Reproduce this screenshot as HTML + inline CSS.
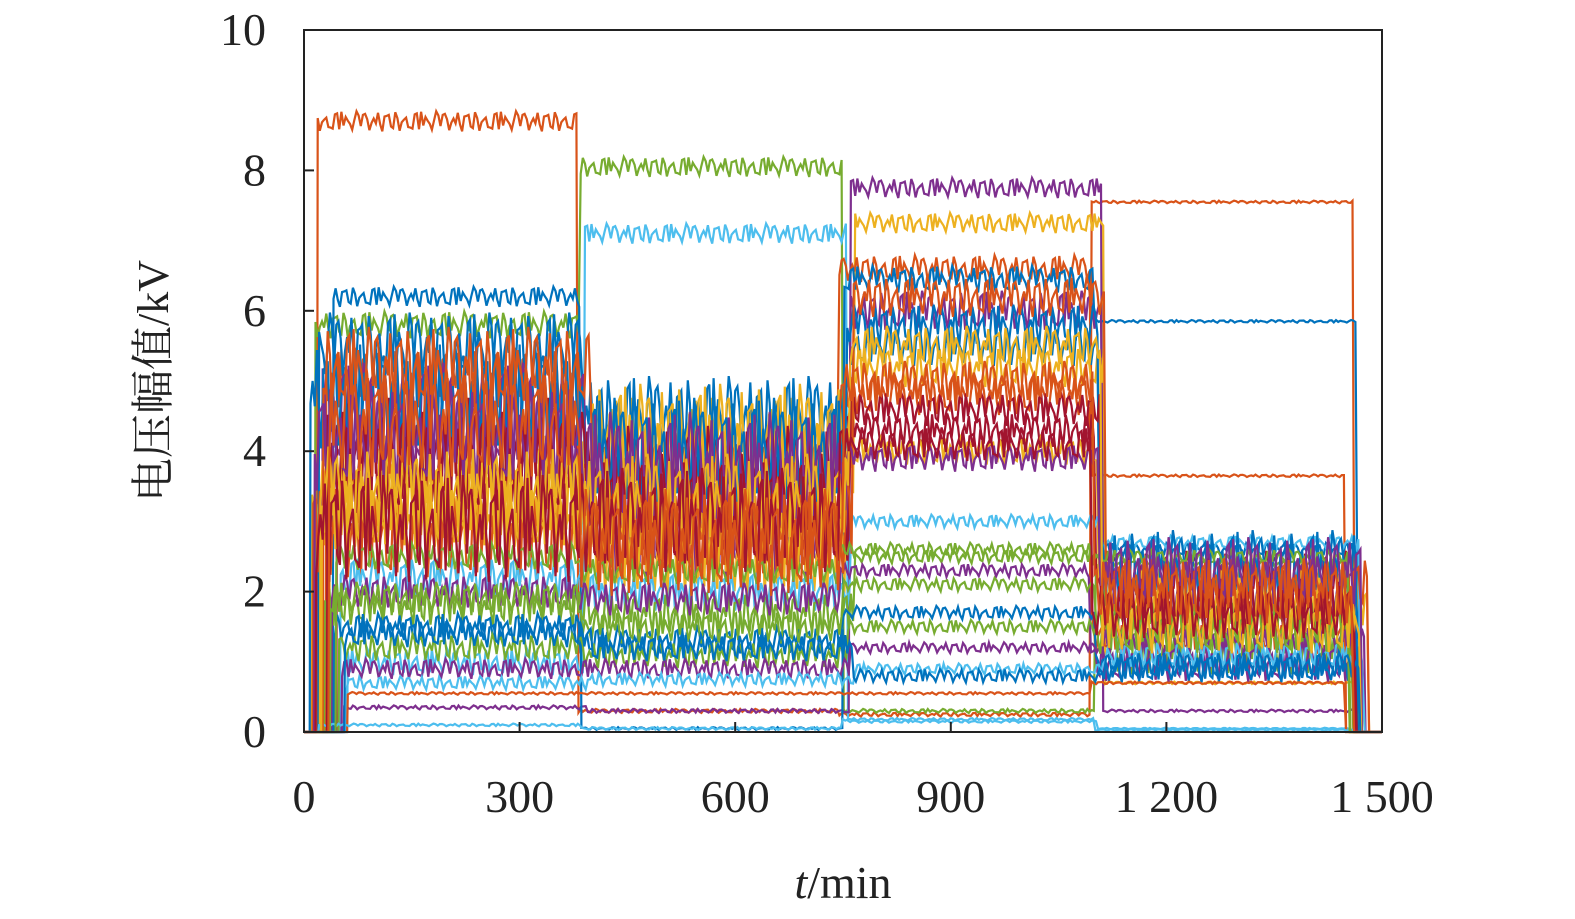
<!DOCTYPE html>
<html><head><meta charset="utf-8">
<style>
html,body{margin:0;padding:0;background:#fff;width:1575px;height:919px;overflow:hidden}
svg{display:block}
text{font-family:"Liberation Serif","Noto Serif CJK SC",serif;fill:#222}
</style></head>
<body>
<svg id="chart" width="1575" height="919" viewBox="0 0 1575 919">
<g id="series"></g>
<rect x="304" y="30" width="1078" height="702" fill="none" stroke="#222" stroke-width="2"/>
<g id="axes"></g>
<text transform="translate(168,381) rotate(-90)" text-anchor="middle" font-size="44">电压幅值/kV</text>
<text x="843" y="898" text-anchor="middle" font-size="46"><tspan font-style="italic">t</tspan>/min</text>
</svg>
<script>
const xTicks=[0,300,600,900,1200,1500];
const xTickLabels=["0","300","600","900","1 200","1 500"];
const yTicks=[0,2,4,6,8,10];
const yTickLabels=["0","2","4","6","8","10"];
const segBounds=[380,745,1095,1460];
const colors=["#0072BD","#D95319","#EDB120","#7E2F8E","#77AC30","#4DBEEE","#A2142F"];
const noisePattern=[0.3,-0.8,0.5,0.9,-0.2,-0.6,0.7,-0.9,0.1,0.6,-0.4,0.8,-0.7,0.2,-0.1,0.95,-0.5,0.4,-0.3,0.65,-0.85,0.15,0.55,-0.65,0.05,-0.95,0.75,-0.15,0.35,-0.45,0.85,-0.25,0.45,-0.75,0.25,-0.55,0.6];
// each series: levels for 4 segments, noise amplitudes, color index, start time
const seriesLevels=[
[8.7,0.3,0.25,7.55],[5.8,8.05,0.3,2.4],[1.0,7.1,0.15,0.05],[0.35,0.3,7.75,0.3],
[3.0,4.0,7.25,0.7],[5.0,3.5,6.6,3.65],[6.2,0.05,6.45,5.85],[5.5,4.5,5.5,2.6],
[4.5,3.0,6.0,2.0],[3.5,4.2,5.2,1.7],[2.8,2.8,4.8,1.4],[4.0,3.6,4.3,2.2],
[3.2,2.6,4.0,1.9],[2.2,2.0,3.0,2.7],[1.8,1.7,2.5,1.2],[2.0,1.9,2.3,1.0],
[1.5,1.3,1.7,0.9],[1.2,1.1,1.5,1.6],[0.9,0.9,1.2,1.3],[0.7,0.75,0.9,1.1],
[0.55,0.55,0.55,0.7],[0.1,0.05,0.18,0.03],[4.8,4.0,5.8,2.4],[3.8,3.2,4.6,1.8],
[5.2,2.9,6.2,2.1],[2.5,2.3,2.6,2.5],[1.9,1.5,2.1,1.4],[4.2,3.8,3.9,2.3],
[3.4,3.3,5.5,1.5],[1.4,1.2,0.8,0.95],[2.9,3.0,4.1,1.7],[4.4,2.7,5.0,2.0]
];
const seriesAmps=[
[0.15,0.03,0.03,0.02],[0.2,0.15,0.03,0.05],[0.2,0.15,0.02,0.01],[0.03,0.03,0.15,0.02],
[0.4,0.8,0.15,0.02],[0.5,0.8,0.2,0.02],[0.15,0.02,0.2,0.02],[0.5,0.6,0.3,0.1],
[0.8,0.9,0.3,0.5],[0.8,0.8,0.3,0.4],[0.7,0.7,0.3,0.3],[0.8,0.8,0.25,0.4],
[0.7,0.7,0.2,0.5],[0.3,0.3,0.1,0.1],[0.3,0.3,0.1,0.4],[0.25,0.25,0.1,0.3],
[0.2,0.2,0.1,0.2],[0.2,0.2,0.1,0.3],[0.15,0.15,0.08,0.2],[0.1,0.1,0.08,0.2],
[0.02,0.02,0.02,0.02],[0.02,0.02,0.02,0.01],[0.8,0.8,0.3,0.5],[0.8,0.8,0.25,0.4],
[0.6,0.8,0.3,0.4],[0.2,0.2,0.1,0.1],[0.25,0.25,0.1,0.3],[0.8,0.8,0.2,0.5],
[0.7,0.7,0.3,0.4],[0.2,0.2,0.1,0.2],[0.8,0.8,0.25,0.4],[0.8,0.8,0.3,0.5]
];
const seriesColor=[1,4,5,3,2,1,0,0,3,2,1,6,2,5,4,3,0,4,3,5,1,5,0,6,1,4,4,3,2,0,6,1];
const seriesStart=[18,15,60,55,10,30,40,20,25,35,12,45,22,50,28,38,42,48,52,58,60,20,8,32,26,44,36,14,24,56,16,34];
const x0=304,x1=1382,y0=732,y1=30;
const X=t=>x0+(t/1500)*(x1-x0);
const Y=v=>y0-(v/10)*(y0-y1);
const g=document.getElementById('series');
const NS="http://www.w3.org/2000/svg";
seriesLevels.forEach((lv,s)=>{
  const off=(s%5)*5;
  const b=segBounds.map((v,i)=>v+off-(i===3?(s%3)*6:0));
  const pts=[[X(0),Y(0)],[X(seriesStart[s]),Y(0)]];
  let k=0;
  for(let t=seriesStart[s]+1;t<=b[3];t+=3){
    let seg=t<b[0]?0:t<b[1]?1:t<b[2]?2:3;
    const n=noisePattern[(k*7+s*13)%noisePattern.length];
    k++;
    pts.push([X(t),Y(Math.max(0,lv[seg]+n*seriesAmps[s][seg]))]);
  }
  pts.push([X(b[3]+2),Y(0)],[X(1500),Y(0)]);
  const p=document.createElementNS(NS,'polyline');
  
  
  p.setAttribute('points',pts.map(q=>q[0].toFixed(1)+','+q[1].toFixed(1)).join(' '));
  p.setAttribute('fill','none');
  p.setAttribute('stroke',colors[seriesColor[s]]);
  p.setAttribute('stroke-width','2.2');
  g.appendChild(p);
});
const ax=document.getElementById('axes');
xTicks.forEach((v,i)=>{
  const l=document.createElementNS(NS,'line');
  
  
  l.setAttribute('x1',X(v));l.setAttribute('x2',X(v));l.setAttribute('y1',y0);l.setAttribute('y2',y0-10);
  l.setAttribute('stroke','#222');l.setAttribute('stroke-width','2');
  ax.appendChild(l);
  const tx=document.createElementNS(NS,'text');
  
  
  tx.setAttribute('x',X(v));tx.setAttribute('y',812);tx.setAttribute('text-anchor','middle');tx.setAttribute('font-size','46');
  tx.textContent=xTickLabels[i];
  ax.appendChild(tx);
});
yTicks.forEach((v,i)=>{
  const l=document.createElementNS(NS,'line');
  
  
  l.setAttribute('x1',x0);l.setAttribute('x2',x0+10);l.setAttribute('y1',Y(v));l.setAttribute('y2',Y(v));
  l.setAttribute('stroke','#222');l.setAttribute('stroke-width','2');
  ax.appendChild(l);
  const tx=document.createElementNS(NS,'text');
  
  
  tx.setAttribute('x',266);tx.setAttribute('y',Y(v)+15);tx.setAttribute('text-anchor','end');tx.setAttribute('font-size','46');
  tx.textContent=yTickLabels[i];
  ax.appendChild(tx);
});
</script>
</body></html>
